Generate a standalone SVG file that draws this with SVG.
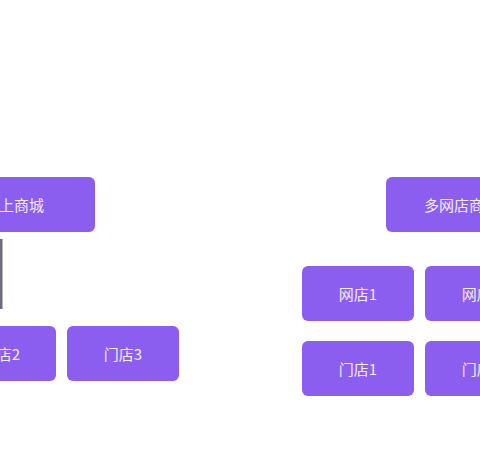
<svg xmlns="http://www.w3.org/2000/svg" width="480" height="450" viewBox="0 0 480 450">
<style>
.box{fill:#8b5ef0;}
.lbl{font-family:"Noto Sans CJK SC","Noto Sans",sans-serif;font-size:15px;fill:#f1edff;text-anchor:middle;dominant-baseline:central;}
</style>
<rect width="480" height="450" fill="#ffffff"/>
<g id="connectors">
<rect x="-1" y="239" width="3.5" height="70" fill="#6e6a80"/>
</g>
<g id="mall"><rect class="box" x="-60" y="177" width="155" height="55" rx="6"/><text class="lbl" x="14" y="204.5">线上商城</text></g>
<g id="store2"><rect class="box" x="-56" y="326" width="112" height="55" rx="6"/><text class="lbl" x="1" y="353.5">门店2</text></g>
<g id="store3"><rect class="box" x="67" y="326" width="112" height="55" rx="6"/><text class="lbl" x="123" y="353.5">门店3</text></g>
<g id="multi"><rect class="box" x="386" y="177" width="155" height="55" rx="6"/><text class="lbl" x="461.5" y="204.5">多网店商城</text></g>
<g id="net1"><rect class="box" x="302" y="266" width="112" height="55" rx="6"/><text class="lbl" x="358" y="293.5">网店1</text></g>
<g id="net2"><rect class="box" x="425" y="266" width="112" height="55" rx="6"/><text class="lbl" x="481" y="293.5">网店2</text></g>
<g id="rstore1"><rect class="box" x="302" y="341" width="112" height="55" rx="6"/><text class="lbl" x="358" y="368.5">门店1</text></g>
<g id="rstore2"><rect class="box" x="425" y="341" width="112" height="55" rx="6"/><text class="lbl" x="481" y="368.5">门店2</text></g>
</svg>
